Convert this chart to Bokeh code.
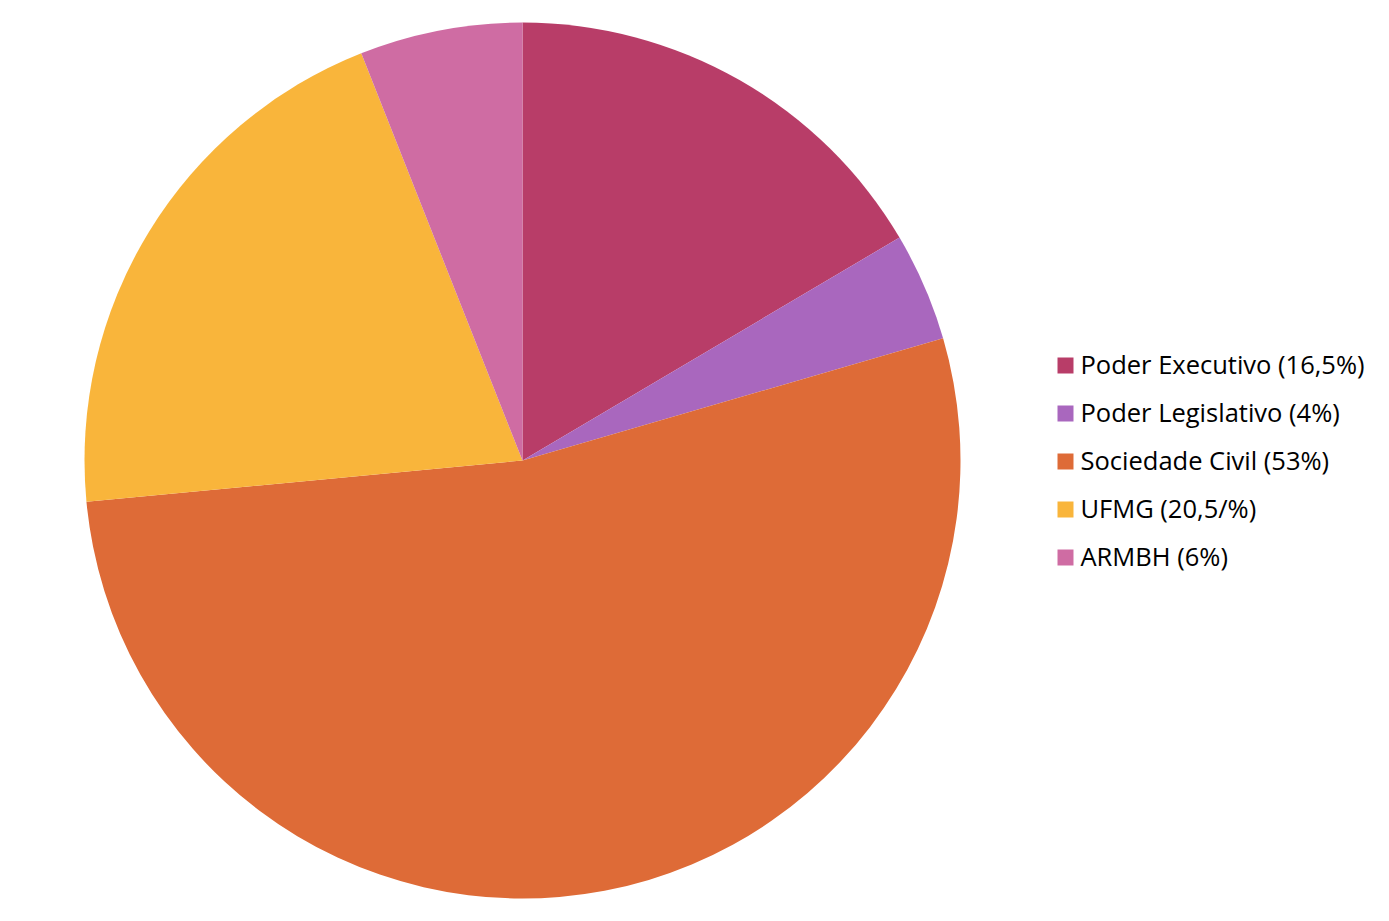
import math
from bokeh.plotting import figure
from bokeh.models import Range1d, ColumnDataSource
from bokeh.core.properties import value
from bokeh.embed import file_html
from bokeh.resources import INLINE

categories = ["Poder Executivo (16,5%)", "Poder Legislativo (4%)", "Sociedade Civil (53%)",
              "UFMG (20,5/%)", "ARMBH (6%)"]
shares = [16.5, 4, 53, 20.5, 6]
colors = ["#B83D68", "#A967BE", "#DE6B37", "#F9B53B", "#CF6CA3"]

W, H = 1373, 905
p = figure(width=W, height=H, output_backend="svg", toolbar_location=None,
           x_range=Range1d(0, W), y_range=Range1d(0, H), min_border=0)
p.axis.visible = False
p.grid.visible = False
p.outline_line_color = None
p.background_fill_color = "white"
p.border_fill_color = "white"

total = sum(shares)
starts, ends = [], []
acc = 0.0
for s in shares:
    starts.append(math.pi / 2 - 2 * math.pi * acc / total)
    acc += s
    ends.append(math.pi / 2 - 2 * math.pi * acc / total)

cx, cy, r = 522, H - 460, 438
src = ColumnDataSource(dict(start=starts, end=ends, color=colors, label=categories))
p.wedge(x=cx, y=cy, radius=r, start_angle="start", end_angle="end", direction="clock",
        fill_color="color", line_color=None, source=src)

# legend
step = 48
ly = [H - 365 - i * step for i in range(len(categories))]
p.rect(x=[1065] * len(categories), y=ly, width=16, height=16,
       fill_color=colors, line_color=None)
p.text(x=[1080] * len(categories), y=[v + 2 for v in ly], text=categories,
       text_font=value("Open Sans"), text_font_size="25.5px", text_baseline="middle",
       text_align="left", text_color="#000000")

open("out.html", "w").write(file_html(p, INLINE))
